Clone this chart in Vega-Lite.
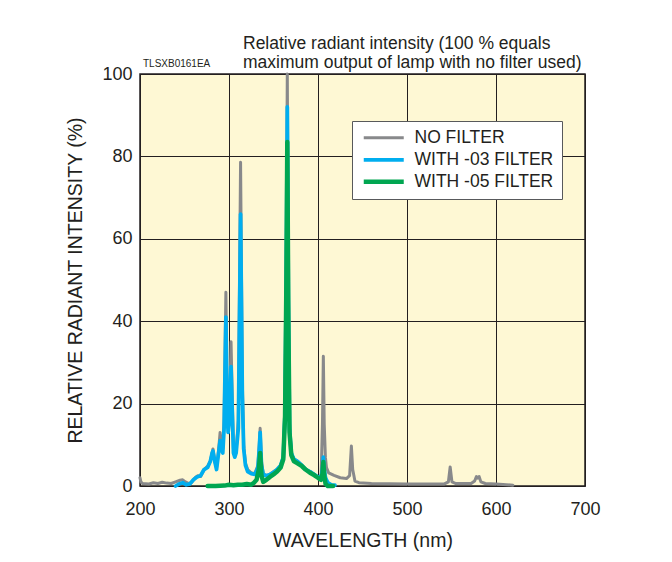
{
  "$schema": "https://vega.github.io/schema/vega-lite/v6.json",
  "width": 445,
  "height": 412,
  "autosize": "none",
  "padding": {"left": 140, "top": 74, "right": 87, "bottom": 76},
  "background": "#ffffff",
  "title": {
    "text": ["Relative radiant intensity (100 % equals", "maximum output of lamp with no filter used)"],
    "anchor": "start",
    "frame": "group",
    "dx": 103,
    "offset": -12,
    "fontSize": 17.5,
    "fontWeight": "normal",
    "font": "Liberation Sans",
    "color": "#231f20",
    "lineHeight": 18.5
  },
  "config": {
    "font": "Liberation Sans",
    "view": {"fill": "#fef8d4", "stroke": "#231f20", "strokeWidth": 1.5},
    "axis": {
      "labelFont": "Liberation Sans",
      "titleFont": "Liberation Sans",
      "labelColor": "#231f20",
      "titleColor": "#231f20",
      "gridColor": "#231f20",
      "gridOpacity": 1,
      "gridWidth": 1,
      "domain": false,
      "ticks": false,
      "labelFlush": false,
      "titleFontWeight": "normal"
    },
    "legend": {
      "orient": "none",
      "legendX": 212,
      "legendY": 47,
      "fillColor": "#ffffff",
      "strokeColor": "#58595b",
      "padding": 8,
      "symbolType": "M-1,0H7",
      "symbolSize": 100,
      "symbolStrokeWidth": 4,
      "labelFontSize": 17.5,
      "labelFont": "Liberation Sans",
      "labelColor": "#231f20",
      "labelOffset": 37,
      "rowPadding": 3
    }
  },
  "datasets": {
    "spectra": [
      {"w": 200, "v": 2.0, "s": "NO FILTER"},
      {"w": 201, "v": 1.0, "s": "NO FILTER"},
      {"w": 203, "v": 0.6, "s": "NO FILTER"},
      {"w": 210, "v": 0.5, "s": "NO FILTER"},
      {"w": 215, "v": 0.8, "s": "NO FILTER"},
      {"w": 220, "v": 0.6, "s": "NO FILTER"},
      {"w": 225, "v": 0.9, "s": "NO FILTER"},
      {"w": 230, "v": 0.7, "s": "NO FILTER"},
      {"w": 235, "v": 0.6, "s": "NO FILTER"},
      {"w": 240, "v": 1.0, "s": "NO FILTER"},
      {"w": 245, "v": 1.4, "s": "NO FILTER"},
      {"w": 248, "v": 1.5, "s": "NO FILTER"},
      {"w": 251, "v": 1.0, "s": "NO FILTER"},
      {"w": 255, "v": 0.6, "s": "NO FILTER"},
      {"w": 258, "v": 0.9, "s": "NO FILTER"},
      {"w": 262, "v": 2.0, "s": "NO FILTER"},
      {"w": 265, "v": 2.5, "s": "NO FILTER"},
      {"w": 268, "v": 2.3, "s": "NO FILTER"},
      {"w": 272, "v": 4.0, "s": "NO FILTER"},
      {"w": 276, "v": 4.8, "s": "NO FILTER"},
      {"w": 279, "v": 6.0, "s": "NO FILTER"},
      {"w": 281, "v": 8.0, "s": "NO FILTER"},
      {"w": 282, "v": 9.0, "s": "NO FILTER"},
      {"w": 284, "v": 6.0, "s": "NO FILTER"},
      {"w": 286, "v": 4.5, "s": "NO FILTER"},
      {"w": 288, "v": 8.0, "s": "NO FILTER"},
      {"w": 290, "v": 13.0, "s": "NO FILTER"},
      {"w": 291.5, "v": 10.0, "s": "NO FILTER"},
      {"w": 293, "v": 9.0, "s": "NO FILTER"},
      {"w": 294.5, "v": 16.0, "s": "NO FILTER"},
      {"w": 296.5, "v": 47.0, "s": "NO FILTER"},
      {"w": 298, "v": 20.0, "s": "NO FILTER"},
      {"w": 299, "v": 14.0, "s": "NO FILTER"},
      {"w": 300.5, "v": 18.0, "s": "NO FILTER"},
      {"w": 302.3, "v": 35.0, "s": "NO FILTER"},
      {"w": 303.8, "v": 20.0, "s": "NO FILTER"},
      {"w": 305, "v": 9.0, "s": "NO FILTER"},
      {"w": 306.5, "v": 7.5, "s": "NO FILTER"},
      {"w": 308, "v": 8.5, "s": "NO FILTER"},
      {"w": 310.5, "v": 16.0, "s": "NO FILTER"},
      {"w": 313, "v": 78.6, "s": "NO FILTER"},
      {"w": 315, "v": 25.0, "s": "NO FILTER"},
      {"w": 316.5, "v": 10.0, "s": "NO FILTER"},
      {"w": 318.5, "v": 5.5, "s": "NO FILTER"},
      {"w": 321, "v": 4.0, "s": "NO FILTER"},
      {"w": 325, "v": 3.2, "s": "NO FILTER"},
      {"w": 329, "v": 3.0, "s": "NO FILTER"},
      {"w": 332.5, "v": 5.0, "s": "NO FILTER"},
      {"w": 334, "v": 10.0, "s": "NO FILTER"},
      {"w": 335, "v": 14.0, "s": "NO FILTER"},
      {"w": 336.5, "v": 6.0, "s": "NO FILTER"},
      {"w": 338.5, "v": 3.0, "s": "NO FILTER"},
      {"w": 342, "v": 2.5, "s": "NO FILTER"},
      {"w": 346, "v": 2.8, "s": "NO FILTER"},
      {"w": 350, "v": 3.5, "s": "NO FILTER"},
      {"w": 354, "v": 4.0, "s": "NO FILTER"},
      {"w": 358, "v": 5.0, "s": "NO FILTER"},
      {"w": 361, "v": 7.0, "s": "NO FILTER"},
      {"w": 363, "v": 20.0, "s": "NO FILTER"},
      {"w": 364.5, "v": 60.0, "s": "NO FILTER"},
      {"w": 365.5, "v": 100.0, "s": "NO FILTER"},
      {"w": 366.7, "v": 50.0, "s": "NO FILTER"},
      {"w": 368, "v": 15.0, "s": "NO FILTER"},
      {"w": 370, "v": 8.0, "s": "NO FILTER"},
      {"w": 373, "v": 6.5, "s": "NO FILTER"},
      {"w": 377, "v": 6.0, "s": "NO FILTER"},
      {"w": 382, "v": 5.0, "s": "NO FILTER"},
      {"w": 386, "v": 4.0, "s": "NO FILTER"},
      {"w": 391, "v": 3.5, "s": "NO FILTER"},
      {"w": 396, "v": 2.8, "s": "NO FILTER"},
      {"w": 400, "v": 2.2, "s": "NO FILTER"},
      {"w": 403.5, "v": 2.5, "s": "NO FILTER"},
      {"w": 405, "v": 15.0, "s": "NO FILTER"},
      {"w": 406, "v": 31.5, "s": "NO FILTER"},
      {"w": 407, "v": 15.0, "s": "NO FILTER"},
      {"w": 408.3, "v": 7.0, "s": "NO FILTER"},
      {"w": 409.5, "v": 4.5, "s": "NO FILTER"},
      {"w": 412, "v": 3.2, "s": "NO FILTER"},
      {"w": 418, "v": 2.6, "s": "NO FILTER"},
      {"w": 425, "v": 2.0, "s": "NO FILTER"},
      {"w": 432, "v": 1.8, "s": "NO FILTER"},
      {"w": 435.5, "v": 2.5, "s": "NO FILTER"},
      {"w": 437.5, "v": 9.7, "s": "NO FILTER"},
      {"w": 439, "v": 4.0, "s": "NO FILTER"},
      {"w": 441.5, "v": 1.2, "s": "NO FILTER"},
      {"w": 446, "v": 0.8, "s": "NO FILTER"},
      {"w": 460, "v": 0.6, "s": "NO FILTER"},
      {"w": 500, "v": 0.5, "s": "NO FILTER"},
      {"w": 542, "v": 0.5, "s": "NO FILTER"},
      {"w": 546.5, "v": 1.0, "s": "NO FILTER"},
      {"w": 548.5, "v": 4.6, "s": "NO FILTER"},
      {"w": 550.5, "v": 1.0, "s": "NO FILTER"},
      {"w": 555, "v": 0.6, "s": "NO FILTER"},
      {"w": 572, "v": 0.6, "s": "NO FILTER"},
      {"w": 576, "v": 1.2, "s": "NO FILTER"},
      {"w": 578, "v": 2.3, "s": "NO FILTER"},
      {"w": 579.5, "v": 1.9, "s": "NO FILTER"},
      {"w": 581, "v": 2.3, "s": "NO FILTER"},
      {"w": 583, "v": 1.0, "s": "NO FILTER"},
      {"w": 588, "v": 0.6, "s": "NO FILTER"},
      {"w": 600, "v": 0.5, "s": "NO FILTER"},
      {"w": 619, "v": 0.2, "s": "NO FILTER"},

      {"w": 240, "v": 0.0, "s": "WITH -03 FILTER"},
      {"w": 244, "v": 0.5, "s": "WITH -03 FILTER"},
      {"w": 248, "v": 0.8, "s": "WITH -03 FILTER"},
      {"w": 252, "v": 0.3, "s": "WITH -03 FILTER"},
      {"w": 256, "v": 0.5, "s": "WITH -03 FILTER"},
      {"w": 260, "v": 1.5, "s": "WITH -03 FILTER"},
      {"w": 264, "v": 2.2, "s": "WITH -03 FILTER"},
      {"w": 268, "v": 2.5, "s": "WITH -03 FILTER"},
      {"w": 272, "v": 4.0, "s": "WITH -03 FILTER"},
      {"w": 276, "v": 4.5, "s": "WITH -03 FILTER"},
      {"w": 279, "v": 6.0, "s": "WITH -03 FILTER"},
      {"w": 281, "v": 8.0, "s": "WITH -03 FILTER"},
      {"w": 282, "v": 8.5, "s": "WITH -03 FILTER"},
      {"w": 284, "v": 6.0, "s": "WITH -03 FILTER"},
      {"w": 286, "v": 4.0, "s": "WITH -03 FILTER"},
      {"w": 288, "v": 7.5, "s": "WITH -03 FILTER"},
      {"w": 290, "v": 11.0, "s": "WITH -03 FILTER"},
      {"w": 291.5, "v": 9.0, "s": "WITH -03 FILTER"},
      {"w": 293, "v": 8.0, "s": "WITH -03 FILTER"},
      {"w": 294.5, "v": 14.0, "s": "WITH -03 FILTER"},
      {"w": 296.5, "v": 41.0, "s": "WITH -03 FILTER"},
      {"w": 298, "v": 18.0, "s": "WITH -03 FILTER"},
      {"w": 299, "v": 13.0, "s": "WITH -03 FILTER"},
      {"w": 300.5, "v": 16.0, "s": "WITH -03 FILTER"},
      {"w": 302.3, "v": 29.0, "s": "WITH -03 FILTER"},
      {"w": 303.8, "v": 17.0, "s": "WITH -03 FILTER"},
      {"w": 305, "v": 8.0, "s": "WITH -03 FILTER"},
      {"w": 306.5, "v": 7.0, "s": "WITH -03 FILTER"},
      {"w": 308, "v": 8.0, "s": "WITH -03 FILTER"},
      {"w": 310.5, "v": 14.0, "s": "WITH -03 FILTER"},
      {"w": 313, "v": 66.0, "s": "WITH -03 FILTER"},
      {"w": 315, "v": 22.0, "s": "WITH -03 FILTER"},
      {"w": 316.5, "v": 9.0, "s": "WITH -03 FILTER"},
      {"w": 318.5, "v": 5.0, "s": "WITH -03 FILTER"},
      {"w": 321, "v": 3.5, "s": "WITH -03 FILTER"},
      {"w": 325, "v": 3.0, "s": "WITH -03 FILTER"},
      {"w": 329, "v": 2.8, "s": "WITH -03 FILTER"},
      {"w": 332.5, "v": 4.5, "s": "WITH -03 FILTER"},
      {"w": 334, "v": 9.0, "s": "WITH -03 FILTER"},
      {"w": 335, "v": 13.0, "s": "WITH -03 FILTER"},
      {"w": 336.5, "v": 5.0, "s": "WITH -03 FILTER"},
      {"w": 338.5, "v": 2.8, "s": "WITH -03 FILTER"},
      {"w": 342, "v": 2.5, "s": "WITH -03 FILTER"},
      {"w": 346, "v": 2.8, "s": "WITH -03 FILTER"},
      {"w": 350, "v": 3.3, "s": "WITH -03 FILTER"},
      {"w": 354, "v": 4.0, "s": "WITH -03 FILTER"},
      {"w": 358, "v": 5.0, "s": "WITH -03 FILTER"},
      {"w": 361, "v": 7.0, "s": "WITH -03 FILTER"},
      {"w": 363, "v": 18.0, "s": "WITH -03 FILTER"},
      {"w": 364.5, "v": 55.0, "s": "WITH -03 FILTER"},
      {"w": 365.5, "v": 92.0, "s": "WITH -03 FILTER"},
      {"w": 366.7, "v": 45.0, "s": "WITH -03 FILTER"},
      {"w": 368, "v": 14.0, "s": "WITH -03 FILTER"},
      {"w": 370, "v": 8.0, "s": "WITH -03 FILTER"},
      {"w": 373, "v": 6.5, "s": "WITH -03 FILTER"},
      {"w": 377, "v": 6.0, "s": "WITH -03 FILTER"},
      {"w": 382, "v": 5.0, "s": "WITH -03 FILTER"},
      {"w": 386, "v": 4.0, "s": "WITH -03 FILTER"},
      {"w": 391, "v": 3.5, "s": "WITH -03 FILTER"},
      {"w": 396, "v": 2.8, "s": "WITH -03 FILTER"},
      {"w": 400, "v": 2.2, "s": "WITH -03 FILTER"},
      {"w": 403.5, "v": 2.2, "s": "WITH -03 FILTER"},
      {"w": 405, "v": 4.0, "s": "WITH -03 FILTER"},
      {"w": 406, "v": 7.0, "s": "WITH -03 FILTER"},
      {"w": 407, "v": 4.0, "s": "WITH -03 FILTER"},
      {"w": 408.5, "v": 2.0, "s": "WITH -03 FILTER"},
      {"w": 411, "v": 0.8, "s": "WITH -03 FILTER"},
      {"w": 415, "v": 0.3, "s": "WITH -03 FILTER"},
      {"w": 419, "v": 0.2, "s": "WITH -03 FILTER"},

      {"w": 276, "v": 0.0, "s": "WITH -05 FILTER"},
      {"w": 285, "v": 0.0, "s": "WITH -05 FILTER"},
      {"w": 295, "v": 0.1, "s": "WITH -05 FILTER"},
      {"w": 300, "v": 0.3, "s": "WITH -05 FILTER"},
      {"w": 305, "v": 0.2, "s": "WITH -05 FILTER"},
      {"w": 310, "v": 0.3, "s": "WITH -05 FILTER"},
      {"w": 315, "v": 0.3, "s": "WITH -05 FILTER"},
      {"w": 320, "v": 0.5, "s": "WITH -05 FILTER"},
      {"w": 325, "v": 0.3, "s": "WITH -05 FILTER"},
      {"w": 328, "v": 0.8, "s": "WITH -05 FILTER"},
      {"w": 331, "v": 1.5, "s": "WITH -05 FILTER"},
      {"w": 333.5, "v": 4.0, "s": "WITH -05 FILTER"},
      {"w": 335, "v": 8.0, "s": "WITH -05 FILTER"},
      {"w": 336.5, "v": 2.5, "s": "WITH -05 FILTER"},
      {"w": 338.5, "v": 1.0, "s": "WITH -05 FILTER"},
      {"w": 342, "v": 1.5, "s": "WITH -05 FILTER"},
      {"w": 346, "v": 2.2, "s": "WITH -05 FILTER"},
      {"w": 350, "v": 2.8, "s": "WITH -05 FILTER"},
      {"w": 354, "v": 3.5, "s": "WITH -05 FILTER"},
      {"w": 358, "v": 4.5, "s": "WITH -05 FILTER"},
      {"w": 361, "v": 6.5, "s": "WITH -05 FILTER"},
      {"w": 363, "v": 17.0, "s": "WITH -05 FILTER"},
      {"w": 364.5, "v": 50.0, "s": "WITH -05 FILTER"},
      {"w": 365.5, "v": 83.5, "s": "WITH -05 FILTER"},
      {"w": 366.7, "v": 40.0, "s": "WITH -05 FILTER"},
      {"w": 368, "v": 13.0, "s": "WITH -05 FILTER"},
      {"w": 370, "v": 7.5, "s": "WITH -05 FILTER"},
      {"w": 373, "v": 6.0, "s": "WITH -05 FILTER"},
      {"w": 377, "v": 5.5, "s": "WITH -05 FILTER"},
      {"w": 382, "v": 4.8, "s": "WITH -05 FILTER"},
      {"w": 386, "v": 4.0, "s": "WITH -05 FILTER"},
      {"w": 391, "v": 3.2, "s": "WITH -05 FILTER"},
      {"w": 396, "v": 2.6, "s": "WITH -05 FILTER"},
      {"w": 400, "v": 2.0, "s": "WITH -05 FILTER"},
      {"w": 403.5, "v": 1.5, "s": "WITH -05 FILTER"},
      {"w": 405, "v": 3.0, "s": "WITH -05 FILTER"},
      {"w": 406, "v": 5.8, "s": "WITH -05 FILTER"},
      {"w": 407, "v": 2.5, "s": "WITH -05 FILTER"},
      {"w": 408.5, "v": 0.5, "s": "WITH -05 FILTER"},
      {"w": 411, "v": 0.0, "s": "WITH -05 FILTER"},
      {"w": 417, "v": 0.0, "s": "WITH -05 FILTER"}
    ],
    "notes": [
      {"w": 200, "v": 100, "t": "TLSXB0161EA"}
    ]
  },
  "layer": [
    {
      "data": {"name": "spectra"},
      "mark": {"type": "line", "strokeJoin": "round", "strokeCap": "round"},
      "encoding": {
        "x": {
          "field": "w",
          "type": "quantitative",
          "scale": {"domain": [200, 700], "nice": false},
          "axis": {
            "values": [200, 300, 400, 500, 600, 700],
            "title": "WAVELENGTH (nm)",
            "labelFontSize": 18,
            "titleFontSize": 19.5,
            "labelPadding": 14,
            "titlePadding": 13
          }
        },
        "y": {
          "field": "v",
          "type": "quantitative",
          "scale": {"domain": [0, 100], "nice": false},
          "axis": {
            "values": [0, 20, 40, 60, 80, 100],
            "title": "RELATIVE RADIANT INTENSITY (%)",
            "labelFontSize": 18,
            "titleFontSize": 19.5,
            "labelPadding": 8,
            "titlePadding": 16
          }
        },
        "color": {
          "field": "s",
          "type": "nominal",
          "scale": {
            "domain": ["NO FILTER", "WITH -03 FILTER", "WITH -05 FILTER"],
            "range": ["#88898b", "#00aeef", "#00a651"]
          },
          "legend": {"title": null}
        },
        "strokeWidth": {
          "field": "s",
          "type": "nominal",
          "scale": {
            "domain": ["NO FILTER", "WITH -03 FILTER", "WITH -05 FILTER"],
            "range": [3, 4.5, 4.5]
          },
          "legend": null
        }
      }
    },
    {
      "data": {"name": "notes"},
      "mark": {"type": "text", "align": "left", "baseline": "middle", "dx": 3, "dy": -10, "fontSize": 10, "font": "Liberation Sans", "color": "#231f20"},
      "encoding": {
        "x": {"field": "w", "type": "quantitative"},
        "y": {"field": "v", "type": "quantitative"},
        "text": {"field": "t"}
      }
    }
  ]
}
